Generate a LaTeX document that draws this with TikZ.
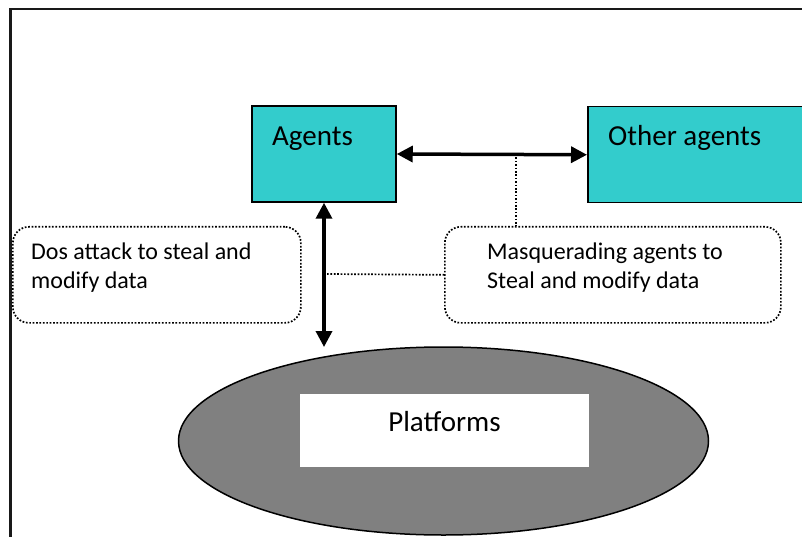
\documentclass[tikz,border=0pt]{standalone}
\usepackage{fontspec}
\setmainfont{Carlito}
\usetikzlibrary{arrows.meta,shapes.geometric}
\definecolor{agentcyan}{RGB}{51,204,204}
\definecolor{platgray}{RGB}{128,128,128}

\begin{document}
\begin{tikzpicture}[x=1pt,y=-1pt,
  dots/.style={dash pattern=on 1.7pt off 1.7pt},
  box/.style={draw=black, line width=1.5pt, fill=agentcyan, inner sep=0},
  callout/.style={draw=black, line width=1.7pt, dots, rounded corners=16pt, inner sep=0},
  link/.style={line width=3.5pt, {Triangle[length=16pt,width=16pt]}-{Triangle[length=16pt,width=16pt]}},
  guide/.style={line width=1.7pt, dots},
  big/.style={font=\fontsize{29}{35}\selectfont, inner sep=0, anchor=base west},
  small/.style={font=\fontsize{24}{29}\selectfont, inner sep=0, anchor=base west}]
\useasboundingbox (0,0) rectangle (802,537);
\clip (0,0) rectangle (802,537);

% page frame
\draw[line width=2.2pt, black!90] (10.5,560) -- (10.5,9) -- (830,9);

% agent boxes
\node[box, minimum width=144, minimum height=96] (agents) at (324,154) {};
\node[box, anchor=north west, minimum width=240, minimum height=96] (other) at (587,106) {};
\node[big] (agentstxt) at (272,146) {Agents};
\node[big] (othertxt) at (608,146) {Other agents};

% platform ellipse
\node[draw=black, line width=1.5pt, fill=platgray, ellipse, minimum width=530, minimum height=188, inner sep=0] (plat) at (443.5,441) {};
\node[fill=white, minimum width=289, minimum height=73, inner sep=0] (platbox) at (444.5,430.5) {};
\node[big, anchor=base] (plattxt) at (444.5,431) {Platforms};

% attack callouts
\node[callout, anchor=north west, minimum width=288, minimum height=96] (dos) at (12,226) {};
\node[callout, anchor=north west, minimum width=336, minimum height=96] (masq) at (444,226) {};
\node[small] (dostxt) at (31,259) {\parbox[t]{265pt}{\raggedright Dos attack to steal and\\modify data}};
\node[small] (masqtxt) at (487,259) {\parbox[t]{285pt}{\raggedright Masquerading agents to\\Steal and modify data}};

% connectors
\coordinate (armend) at (324,347);
\coordinate (tap) at (516,154);
\coordinate (joint) at (327,274);
\draw[link] (agents.east) -- (other.west);
\draw[link] (agents.south) -- (armend);
\draw[guide] (tap) -- (tap |- masq.north);
\draw[guide] (joint) -- (masq.west);
\end{tikzpicture}
\end{document}
